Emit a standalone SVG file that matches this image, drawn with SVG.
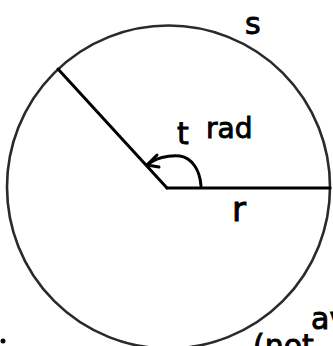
<svg xmlns="http://www.w3.org/2000/svg" width="333" height="346" viewBox="0 0 333 346">
<style>
.ink{fill:none;stroke:#000;stroke-width:3;stroke-linecap:round;stroke-linejoin:round}
.rim{fill:none;stroke:#2a2a2a;stroke-width:2.6}
.hand{font-family:"DejaVu Sans",sans-serif;fill:#000;stroke:#000;stroke-width:0.9}
</style>
<rect width="333" height="346" fill="#fff"/>
<g id="circle">
<circle class="rim" cx="168.5" cy="187" r="161.5"/>
</g>
<g id="connectors">
<line class="ink" x1="58" y1="69" x2="167" y2="188"/>
<line class="ink" x1="167" y1="188" x2="330" y2="188"/>
<path class="ink" d="M201,186 C200,170 192,158 180,156 C168,155 155,158 147,165" stroke-width="2.5"/>
<polyline class="ink" points="157,155 147,165 159,167" stroke-width="2.5"/>
</g>
<g id="labels">
<text class="hand" x="245" y="34" font-size="30">s</text>
<text class="hand" x="177" y="144" font-size="30">t</text>
<text class="hand" x="206" y="138" font-size="28">rad</text>
<text class="hand" x="232" y="221" font-size="34">r</text>
<text class="hand" x="311" y="329" font-size="30">av</text>
<text class="hand" x="253" y="356" font-size="30">(not</text>
<circle cx="3" cy="341" r="2.5" fill="#000"/>
</g>
</svg>
